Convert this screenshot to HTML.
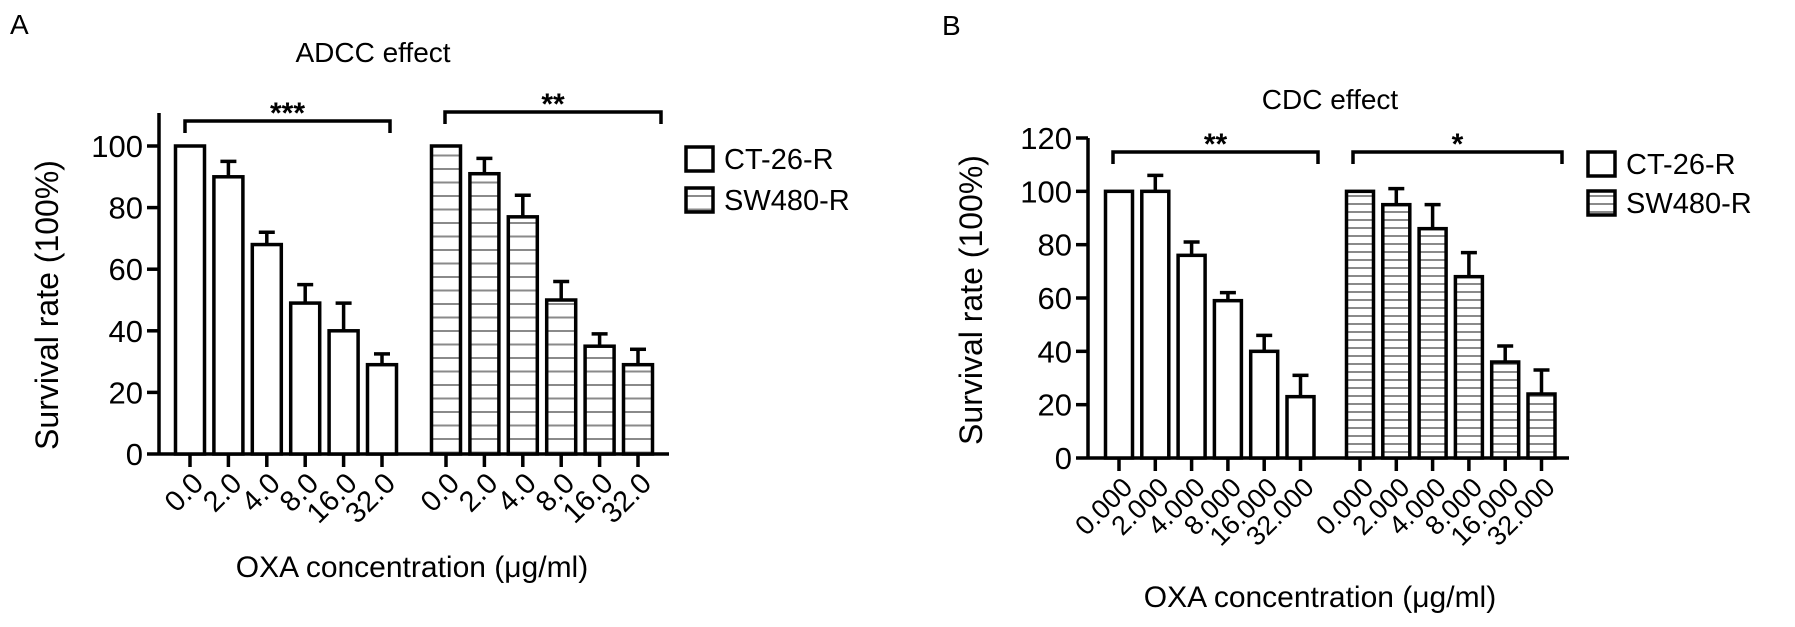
<!DOCTYPE html>
<html><head><meta charset="utf-8"><style>
html,body{margin:0;padding:0;background:#fff}
svg{display:block;font-family:"Liberation Sans",Arial,sans-serif}
</style></head><body>
<svg id="fig" width="1795" height="627" viewBox="0 0 1795 627">
<defs>
<pattern id="hatchA" patternUnits="userSpaceOnUse" width="10" height="13.5"><rect width="10" height="13.5" fill="#fff"/><line x1="0" y1="7" x2="10" y2="7" stroke="#8a8a8a" stroke-width="2"/></pattern>
<pattern id="hatchB" patternUnits="userSpaceOnUse" width="10" height="8"><rect width="10" height="8" fill="#fff"/><line x1="0" y1="4" x2="10" y2="4" stroke="#8a8a8a" stroke-width="2"/></pattern>
</defs>
</svg>
<script>
// Panel A data
const catsA = ["0.0","2.0","4.0","8.0","16.0","32.0"];
const ctA = [100, 90, 68, 49, 40, 29];
const ctErrA = [0, 5, 4, 6, 9, 3.5];
const swA = [100, 91, 77, 50, 35, 29];
const swErrA = [0, 5, 7, 6, 4, 5];
const yTicksA = [0, 20, 40, 60, 80, 100];
// Panel B data
const catsB = ["0.000","2.000","4.000","8.000","16.000","32.000"];
const ctB = [100, 100, 76, 59, 40, 23];
const ctErrB = [0, 6, 5, 3, 6, 8];
const swB = [100, 95, 86, 68, 36, 24];
const swErrB = [0, 6, 9, 9, 6, 9];
const yTicksB = [0, 20, 40, 60, 80, 100, 120];

const NS = "http://www.w3.org/2000/svg";
const svg = document.getElementById('fig');
function mk(tag, attrs, parent) {
  const e = document.createElementNS(NS, tag);
  for (const k in attrs) e.setAttribute(k, attrs[k]);
  (parent || svg).appendChild(e);
  return e;
}
function txt(s, attrs, parent) { const e = mk('text', attrs, parent); e.textContent = s; return e; }

function panel(cfg) {
  const g = mk('g', {});
  
  
  const y = v => cfg.y0 - (v / cfg.ymax) * (cfg.y0 - cfg.ytop);
  const x = (grp, i) => cfg.gx[grp] + i * cfg.step;
  const t = txt(cfg.letter, {x: cfg.letterX, y: cfg.letterY, 'font-size': 28}, g);
  
  
  const ti = txt(cfg.title, {x: cfg.titleX, y: cfg.titleY, 'font-size': 28, 'text-anchor': 'middle'}, g);
  
  
  const ya = mk('line', {x1: cfg.ax, y1: cfg.axTop, x2: cfg.ax, y2: cfg.y0 + 1.5, stroke: '#000', 'stroke-width': 3.5}, g);
  
  
  cfg.yTicks.forEach(v => {
    const tk = mk('line', {x1: cfg.ax - 12, y1: y(v), x2: cfg.ax, y2: y(v), stroke: '#000', 'stroke-width': 3.5}, g);
    
    
    const tl = txt(String(v), {x: cfg.ax - 16, y: y(v) + 11, 'font-size': 31, 'text-anchor': 'end'}, g);
    
    
  });
  const yt = txt('Survival rate (100%)', {x: 0, y: 0, 'font-size': 32, 'text-anchor': 'middle', transform: `translate(${cfg.ytX},${cfg.ytY}) rotate(-90)`}, g);
  
  
  const xa = mk('line', {x1: cfg.ax, y1: cfg.y0, x2: cfg.axEnd, y2: cfg.y0, stroke: '#000', 'stroke-width': 3.5}, g);
  
  
  const series = [[cfg.ct, cfg.ctErr, '#fff'], [cfg.sw, cfg.swErr, `url(#${cfg.hatch})`]];
  series.forEach((s, grp) => {
    s[0].forEach((v, i) => {
      const cx = x(grp, i);
      const r = mk('rect', {x: cx - cfg.bw / 2, y: y(v), width: cfg.bw, height: cfg.y0 - y(v), fill: s[2], stroke: '#000', 'stroke-width': 3.5}, g);
      
      
      if (s[1][i] > 0) {
        const e1 = mk('line', {x1: cx, y1: y(v), x2: cx, y2: y(v + s[1][i]), stroke: '#000', 'stroke-width': 3.5}, g);
        
        
        const e2 = mk('line', {x1: cx - 8, y1: y(v + s[1][i]), x2: cx + 8, y2: y(v + s[1][i]), stroke: '#000', 'stroke-width': 3.5}, g);
        
        
      }
      const tk = mk('line', {x1: cx, y1: cfg.y0, x2: cx, y2: cfg.y0 + 13, stroke: '#000', 'stroke-width': 3.5}, g);
      
      
      const tl = txt(cfg.cats[i], {x: 0, y: 0, 'font-size': cfg.tickFont, 'text-anchor': 'end', transform: `translate(${cx + 15},${cfg.y0 + 31}) rotate(-45)`}, g);
      
      
    });
  });
  const xt = txt('OXA concentration (\u03bcg/ml)', {x: cfg.xtX, y: cfg.xtY, 'font-size': 30, 'text-anchor': 'middle'}, g);
  
  
  cfg.brackets.forEach(b => {
    const p = mk('path', {d: `M${b[0]},${b[2] + 12} V${b[2]} H${b[1]} V${b[2] + 12}`, fill: 'none', stroke: '#000', 'stroke-width': 3.5}, g);
    
    
    const st = txt(b[3], {x: (b[0] + b[1]) / 2, y: b[2] + 2, 'font-size': 30, 'font-weight': 'bold', 'text-anchor': 'middle'}, g);
    
    
  });
  [['CT-26-R', '#fff'], ['SW480-R', `url(#${cfg.hatch})`]].forEach((l, i) => {
    const ly = cfg.legY + i * cfg.legGap;
    const lb = mk('rect', {x: cfg.legX, y: ly, width: 27, height: 24, fill: l[1], stroke: '#000', 'stroke-width': 3.5}, g);
    
    
    const lt = txt(l[0], {x: cfg.legX + 38, y: ly + 22, 'font-size': 29}, g);
    
    
  });
}

panel({name: 'panel-a-adcc', letter: 'A', letterX: 10, letterY: 34, title: 'ADCC effect', titleX: 373, titleY: 62,
  ax: 159, axTop: 113, axEnd: 669, y0: 454, ytop: 146, ymax: 100, yTicks: yTicksA,
  ytX: 58, ytY: 305, gx: [190, 446], step: 38.4, bw: 29, hatch: 'hatchA', tickFont: 29,
  cats: catsA, ct: ctA, ctErr: ctErrA, sw: swA, swErr: swErrA,
  xtX: 412, xtY: 577,
  brackets: [[185, 390, 121, '***'], [445, 661, 112, '**']],
  legX: 686, legY: 147, legGap: 41});

panel({name: 'panel-b-cdc', letter: 'B', letterX: 942, letterY: 35, title: 'CDC effect', titleX: 1330, titleY: 109,
  ax: 1088, axTop: 138, axEnd: 1569, y0: 458, ytop: 138, ymax: 120, yTicks: yTicksB,
  ytX: 982, ytY: 300, gx: [1119, 1360], step: 36.3, bw: 27, hatch: 'hatchB', tickFont: 27,
  cats: catsB, ct: ctB, ctErr: ctErrB, sw: swB, swErr: swErrB,
  xtX: 1320, xtY: 607,
  brackets: [[1113, 1318, 152, '**'], [1353, 1562, 152, '*']],
  legX: 1588, legY: 152, legGap: 39});
</script>
</body></html>
